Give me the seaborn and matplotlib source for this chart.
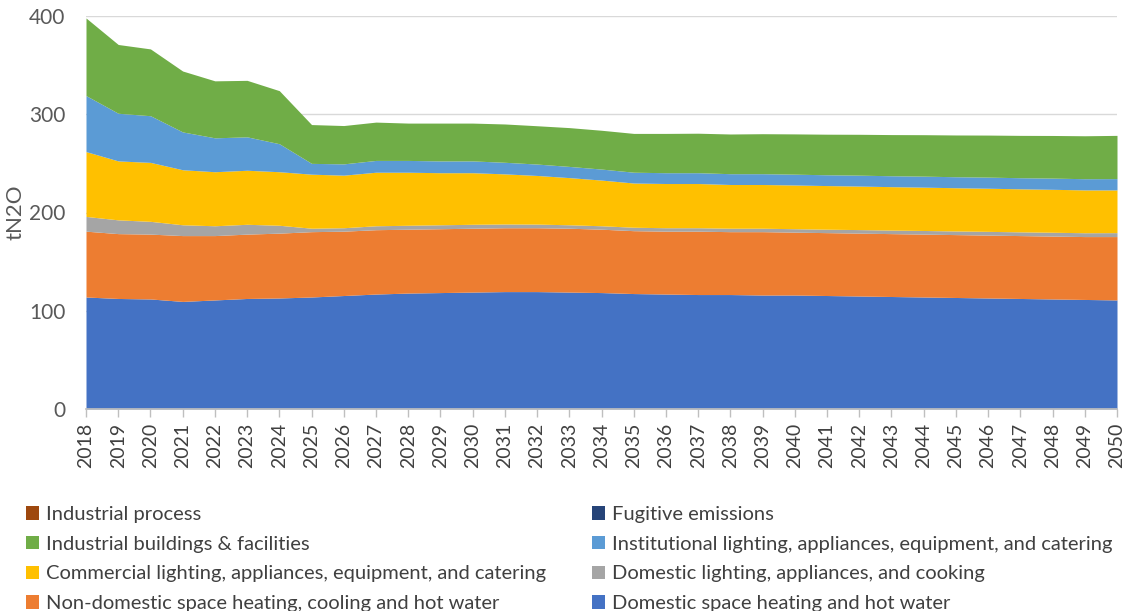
import numpy as np
import pandas as pd
import matplotlib
matplotlib.use("Agg")
import matplotlib.pyplot as plt
from matplotlib.patches import Patch
import seaborn as sns

years = list(range(2018, 2051))

domestic_heating = [114, 112.5, 112, 109.5, 111, 112.5, 113, 114, 115.5, 117, 118,
                    118.5, 119, 119.5, 119.5, 119, 118.5, 117.5, 117, 116.5, 116.5,
                    116, 116, 115.5, 115, 114.5, 114, 113.5, 113, 112.5, 112, 111.5, 111]
nondomestic_heating = [67, 66, 66, 67, 65.5, 65.5, 66, 66.5, 65.5, 65.5, 65, 65, 65, 65,
                       65, 65, 64.5, 64, 64, 64.5, 64, 64.5, 64, 64, 64, 64, 64, 64, 64,
                       64, 64, 64, 64.5]
domestic_lighting = [15, 14, 13, 11, 10, 10, 8, 3.5, 3.5, 4, 4, 4, 4, 3.8, 3.7, 3.5, 3.5,
                     3.5, 3.5, 3.5, 3.5, 3.5, 3.5, 3.5, 3.6, 3.6, 3.7, 3.7, 3.8, 3.8, 3.9,
                     3.9, 4]
commercial = [66, 60, 60, 56, 55, 55, 54.5, 55, 53.5, 54.5, 54, 53, 52.5, 51, 49.5, 48,
              46.5, 45, 45, 45, 44.5, 44.5, 44.5, 44.4, 44.3, 44.2, 44.1, 44, 43.9, 43.8,
              43.7, 43.6, 43.5]
institutional = [57, 48.5, 47.5, 38.5, 34.5, 34, 28.5, 11, 11.5, 12, 12, 12, 12, 11.8,
                 11.6, 11.4, 11.2, 11, 11, 11, 11, 11, 11, 11, 11.1, 11.1, 11.2, 11.2,
                 11.3, 11.3, 11.4, 11.4, 11.5]
industrial_buildings = [79, 70, 68, 62, 58, 57.5, 54, 39.5, 39, 39, 38, 38.5, 38.5, 39,
                        39, 39.5, 39.5, 39.5, 40, 40.2, 40.4, 40.7, 41, 41.3, 41.6, 41.9,
                        42.2, 42.5, 42.8, 43.1, 43.4, 43.7, 44]
fugitive = [0.0] * len(years)
industrial_process = [0.0] * len(years)

series_names = [
    "Domestic space heating and hot water",
    "Non-domestic space heating, cooling and hot water",
    "Domestic lighting, appliances, and cooking",
    "Commercial lighting, appliances, equipment, and catering",
    "Institutional lighting, appliances, equipment, and catering",
    "Industrial buildings & facilities",
    "Fugitive emissions",
    "Industrial process",
]
series_values = [domestic_heating, nondomestic_heating, domestic_lighting, commercial,
                 institutional, industrial_buildings, fugitive, industrial_process]
colors = ["#4472C4", "#ED7D31", "#A5A5A5", "#FFC000", "#5B9BD5", "#70AD47",
          "#264478", "#9E480E"]

df = pd.DataFrame(dict(zip(series_names, series_values)), index=years)

sns.set_theme(style="white")
plt.rcParams['font.family'] = ['Lato', 'DejaVu Sans']

fig = plt.figure(figsize=(11.31, 6.11), dpi=100)
ax = fig.add_axes([86/1131, 1 - 409/611, (1117-86)/1131, (409-16)/611])

palette = sns.color_palette(colors)
ax.stackplot(df.index, [df[c].values for c in series_names], colors=palette,
             linewidth=0, zorder=2)

ax.set_xlim(2018, 2050)
ax.set_ylim(0, 400)
ax.set_yticks([0, 100, 200, 300, 400])
ax.set_xticks(years)
ax.set_xticklabels([str(y) for y in years], rotation=90, fontsize=14, color="#404040")
ax.tick_params(axis='y', labelsize=15, labelcolor="#595959", length=0, pad=15)
ax.tick_params(axis='x', length=6, width=1, color="#BFBFBF", direction='out', pad=4,
               bottom=True)
ax.yaxis.grid(True, color="#D9D9D9", linewidth=1, zorder=0)
ax.set_axisbelow(True)
for s in ["top", "right", "left"]:
    ax.spines[s].set_visible(False)
ax.spines["bottom"].set_color("#BFBFBF")
ax.set_ylabel("tN2O", fontsize=16, color="#595959", labelpad=4)
ax.yaxis.set_label_coords(-60/1031, 0.5)

handles = {n: Patch(facecolor=c, edgecolor='none') for n, c in zip(series_names, colors)}
left_items = ["Industrial process", "Industrial buildings & facilities",
              "Commercial lighting, appliances, equipment, and catering",
              "Non-domestic space heating, cooling and hot water"]
right_items = ["Fugitive emissions",
               "Institutional lighting, appliances, equipment, and catering",
               "Domestic lighting, appliances, and cooking",
               "Domestic space heating and hot water"]

for items, x0 in [(left_items, 26/1131), (right_items, 592/1131)]:
    fig.legend([handles[n] for n in items], items, loc="upper left",
               bbox_to_anchor=(x0, 1 - 506/611), frameon=False, fontsize=14.5,
               handlelength=0.65, handleheight=0.65, handletextpad=0.35,
               labelspacing=0.63, borderpad=0, borderaxespad=0,
               labelcolor="#404040")

fig.savefig("out.png", dpi=100)
